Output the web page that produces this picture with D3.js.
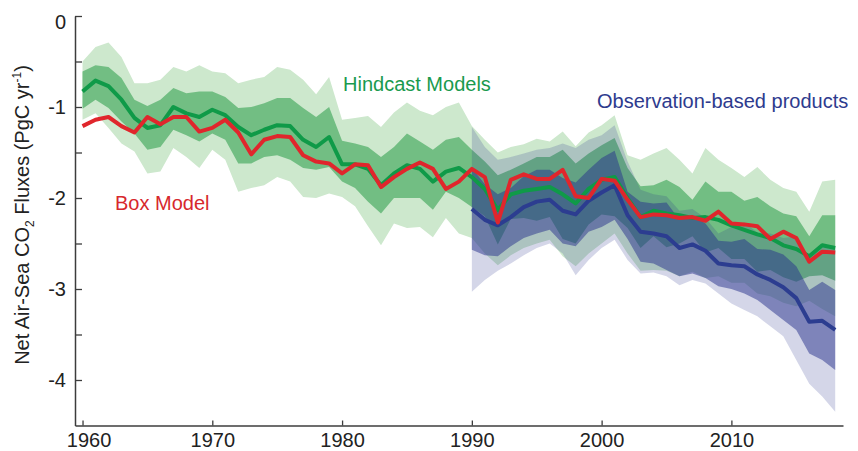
<!DOCTYPE html>
<html><head><meta charset="utf-8">
<script src="https://cdn.jsdelivr.net/npm/d3@7/dist/d3.min.js"></script>
<style>
body{margin:0;background:#fff}
svg{display:block}
text{font-family:"Liberation Sans",Arial,Helvetica,sans-serif}
</style>
</head><body>
<svg id="chart" width="858" height="451"></svg>
<script>
// ---------- DATA ----------
const years = [1960,1961,1962,1963,1964,1965,1966,1967,1968,1969,1970,1971,1972,1973,1974,1975,1976,1977,1978,1979,
  1980,1981,1982,1983,1984,1985,1986,1987,1988,1989,1990,1991,1992,1993,1994,1995,1996,1997,1998,1999,
  2000,2001,2002,2003,2004,2005,2006,2007,2008,2009,2010,2011,2012,2013,2014,2015,2016,2017,2018];

const hindcastMean = [-0.83,-0.71,-0.77,-0.92,-1.12,-1.23,-1.20,-1.00,-1.07,-1.11,-1.03,-1.09,-1.22,-1.31,-1.25,-1.20,-1.21,-1.36,-1.44,-1.33,
  -1.63,-1.63,-1.68,-1.86,-1.73,-1.64,-1.68,-1.82,-1.71,-1.67,-1.77,-1.90,-2.13,-1.96,-1.92,-1.90,-1.88,-1.96,-2.06,-1.90,
  -1.80,-1.77,-2.00,-2.21,-2.14,-2.17,-2.19,-2.22,-2.21,-2.24,-2.30,-2.35,-2.40,-2.44,-2.52,-2.56,-2.64,-2.52,-2.55];

const hindcastInnerUpper = [-0.61,-0.54,-0.56,-0.68,-0.92,-0.99,-0.92,-0.79,-0.85,-0.83,-0.83,-0.89,-1.01,-1.00,-0.96,-0.90,-0.90,-1.01,-1.11,-1.00,
  -1.37,-1.40,-1.44,-1.55,-1.44,-1.29,-1.38,-1.47,-1.36,-1.33,-1.47,-1.60,-1.75,-1.69,-1.62,-1.55,-1.55,-1.47,-1.62,-1.51,
  -1.42,-1.34,-1.67,-1.87,-1.86,-1.80,-1.88,-2.02,-1.82,-1.93,-1.93,-2.03,-1.99,-2.09,-2.17,-2.20,-2.42,-2.19,-2.19];

const hindcastInnerLower = [-1.02,-0.92,-1.01,-1.16,-1.29,-1.47,-1.44,-1.25,-1.31,-1.38,-1.29,-1.36,-1.62,-1.62,-1.55,-1.53,-1.58,-1.67,-1.69,-1.66,
  -1.82,-1.89,-2.04,-2.17,-2.00,-2.00,-2.00,-2.13,-1.93,-2.00,-2.10,-2.20,-2.51,-2.23,-2.22,-2.25,-2.21,-2.45,-2.50,-2.29,
  -2.18,-2.20,-2.33,-2.55,-2.42,-2.54,-2.50,-2.42,-2.60,-2.55,-2.67,-2.67,-2.81,-2.79,-2.87,-2.92,-2.86,-2.85,-2.91];

const hindcastOuterUpper = [-0.50,-0.34,-0.29,-0.45,-0.74,-0.74,-0.70,-0.56,-0.61,-0.54,-0.61,-0.63,-0.74,-0.70,-0.67,-0.56,-0.59,-0.70,-0.86,-0.67,
  -1.14,-1.12,-1.10,-1.22,-1.06,-0.95,-1.04,-1.09,-1.00,-0.95,-1.21,-1.36,-1.50,-1.44,-1.41,-1.35,-1.38,-1.27,-1.43,-1.28,
  -1.20,-1.09,-1.53,-1.58,-1.51,-1.45,-1.58,-1.73,-1.45,-1.58,-1.67,-1.77,-1.66,-1.80,-1.89,-1.93,-2.15,-1.82,-1.80];

const hindcastOuterLower = [-1.14,-1.07,-1.23,-1.40,-1.49,-1.73,-1.71,-1.45,-1.55,-1.67,-1.47,-1.58,-1.93,-1.89,-1.86,-1.77,-1.82,-1.99,-2.00,-1.95,
  -1.99,-2.09,-2.31,-2.52,-2.28,-2.33,-2.32,-2.43,-2.22,-2.39,-2.44,-2.61,-2.74,-2.63,-2.55,-2.50,-2.46,-2.64,-2.75,-2.61,
  -2.50,-2.39,-2.61,-2.80,-2.79,-2.80,-2.86,-2.81,-2.88,-2.86,-2.93,-2.93,-3.05,-3.08,-3.15,-3.19,-3.13,-3.22,-3.30];

const boxModel = [-1.21,-1.14,-1.11,-1.21,-1.28,-1.11,-1.19,-1.11,-1.11,-1.27,-1.23,-1.14,-1.28,-1.52,-1.36,-1.32,-1.33,-1.53,-1.60,-1.62,
  -1.73,-1.63,-1.64,-1.88,-1.77,-1.68,-1.61,-1.68,-1.90,-1.82,-1.68,-1.77,-2.27,-1.80,-1.74,-1.79,-1.79,-1.69,-1.98,-2.00,
  -1.79,-1.81,-2.02,-2.21,-2.18,-2.19,-2.22,-2.21,-2.25,-2.15,-2.28,-2.29,-2.31,-2.45,-2.37,-2.44,-2.70,-2.59,-2.60];

const obsYears = [1990,1991,1992,1993,1994,1995,1996,1997,1998,1999,2000,2001,2002,2003,2004,2005,2006,2007,2008,2009,
  2010,2011,2012,2013,2014,2015,2016,2017,2018];

const obsMean = [-2.12,-2.24,-2.30,-2.21,-2.10,-2.04,-2.02,-2.14,-2.18,-2.03,-1.94,-1.86,-2.19,-2.37,-2.39,-2.42,-2.55,-2.51,-2.58,-2.72,
  -2.74,-2.75,-2.84,-2.90,-2.98,-3.10,-3.36,-3.35,-3.45];

const obsInnerUpper = [-1.67,-1.85,-1.96,-1.89,-1.76,-1.69,-1.69,-1.78,-1.83,-1.69,-1.56,-1.48,-1.93,-2.04,-2.06,-2.05,-2.24,-2.19,-2.28,-2.47,
  -2.48,-2.45,-2.56,-2.57,-2.62,-2.75,-3.01,-2.92,-3.01];

const obsInnerLower = [-2.57,-2.63,-2.64,-2.53,-2.44,-2.39,-2.35,-2.50,-2.53,-2.37,-2.32,-2.24,-2.45,-2.70,-2.72,-2.79,-2.86,-2.83,-2.88,-2.97,
  -3.00,-3.05,-3.12,-3.23,-3.34,-3.45,-3.71,-3.78,-3.89];

const obsOuterUpper = [-1.22,-1.44,-1.58,-1.55,-1.51,-1.47,-1.45,-1.40,-1.45,-1.36,-1.31,-1.20,-1.60,-1.91,-1.96,-1.98,-2.14,-2.12,-2.22,-2.39,
  -2.32,-2.27,-2.38,-2.39,-2.44,-2.42,-2.68,-2.52,-2.55];

const obsOuterLower = [-3.03,-2.90,-2.80,-2.72,-2.63,-2.55,-2.50,-2.61,-2.85,-2.68,-2.55,-2.46,-2.68,-2.83,-2.82,-2.86,-2.96,-2.90,-2.94,-3.05,
  -3.16,-3.23,-3.30,-3.41,-3.52,-3.78,-4.04,-4.18,-4.35];

const xTickValues = [1960,1970,1980,1990,2000,2010];
const yTickValues = [0,-0.5,-1,-1.5,-2,-2.5,-3,-3.5,-4];
const yLabelValues = [0,-1,-2,-3,-4];

// ---------- DRAW ----------
const svg = d3.select("#chart");
const x = d3.scaleLinear().domain([1959.42, 2018.6]).range([75, 843]);
const y = d3.scaleLinear().domain([0, -4.5]).range([16, 425.5]);

function band(xs, lo, hi) {
  return xs.map((d, i) => ({ x: d, lo: lo[i], hi: hi[i] }));
}
const area = d3.area().x(d => x(d.x)).y0(d => y(d.lo)).y1(d => y(d.hi));
const line = d3.line().x(d => x(d[0])).y(d => y(d[1]));

const g = svg.append("g");
g.append("path").datum(band(years, hindcastOuterLower, hindcastOuterUpper)).attr("d", area).attr("fill", "#cde8cd");
g.append("path").datum(band(years, hindcastInnerLower, hindcastInnerUpper)).attr("d", area).attr("fill", "#72be83");
g.append("path").datum(band(obsYears, obsOuterLower, obsOuterUpper)).attr("d", area).attr("fill", "#28328c").attr("fill-opacity", 0.2);
g.append("path").datum(band(obsYears, obsInnerLower, obsInnerUpper)).attr("d", area).attr("fill", "#28328c").attr("fill-opacity", 0.5);

g.append("path").datum(years.map((d, i) => [d, hindcastMean[i]])).attr("d", line)
  .attr("fill", "none").attr("stroke", "#0f9a48").attr("stroke-width", 4).attr("stroke-linejoin", "round");
g.append("path").datum(obsYears.map((d, i) => [d, obsMean[i]])).attr("d", line)
  .attr("fill", "none").attr("stroke", "#2c3d90").attr("stroke-width", 4).attr("stroke-linejoin", "round");
g.append("path").datum(years.map((d, i) => [d, boxModel[i]])).attr("d", line)
  .attr("fill", "none").attr("stroke", "#e0262c").attr("stroke-width", 4).attr("stroke-linejoin", "round");

// axes
const axisColor = "#3c3c3c";
const xAxis = svg.append("g").attr("transform", `translate(0,${y(-4.5)})`)
  .call(d3.axisBottom(x).tickValues(xTickValues).tickSizeInner(-5).tickSizeOuter(0).tickPadding(7).tickFormat(d => String(d)));
const yAxis = svg.append("g").attr("transform", `translate(${x(1959.42)},0)`)
  .call(d3.axisLeft(y).tickValues(yTickValues).tickSizeInner(-7).tickSizeOuter(0).tickPadding(9)
    .tickFormat(d => yLabelValues.includes(d) ? String(d) : ""));
[xAxis, yAxis].forEach(a => {
  a.select(".domain").attr("stroke", axisColor).attr("stroke-width", 1.5);
  a.selectAll(".tick line").attr("stroke", axisColor).attr("stroke-width", 1.3);
  a.selectAll(".tick text").attr("fill", "#222").style("font-size", "20px").style("font-family", '"Liberation Sans",Arial,sans-serif');
});
xAxis.selectAll(".tick text").filter(d => d === 1960).attr("dx", 6);
yAxis.selectAll(".tick text").filter(d => d === 0).attr("dy", "0.6em");

// y title
const t = svg.append("text").attr("transform", "translate(29,215) rotate(-90)")
  .attr("text-anchor", "middle").attr("fill", "#222").style("font-size", "20px");
t.append("tspan").text("Net Air-Sea CO");
t.append("tspan").attr("dy", 5).style("font-size", "12px").text("2");
t.append("tspan").attr("dy", -5).text(" Fluxes (PgC yr");
t.append("tspan").attr("dy", -8).style("font-size", "12px").text("-1");
t.append("tspan").attr("dy", 8).text(")");

// annotations
svg.append("text").attr("x", 343).attr("y", 90.5).attr("fill", "#1a9a4e").style("font-size", "20px").text("Hindcast Models");
svg.append("text").attr("x", 597).attr("y", 107.5).attr("fill", "#2e3b8e").style("font-size", "20px").text("Observation-based products");
svg.append("text").attr("x", 115).attr("y", 209.5).attr("fill", "#d7282d").style("font-size", "20px").text("Box Model");
</script>
</body></html>
